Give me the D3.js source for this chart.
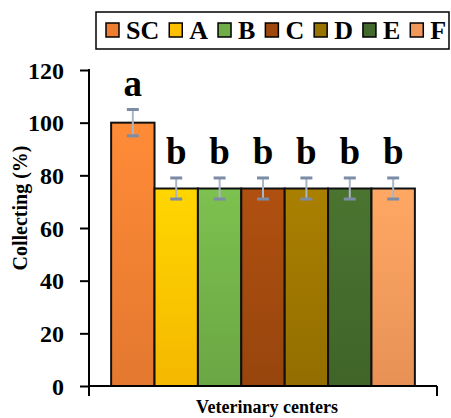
<!DOCTYPE html>
<html>
<head>
<meta charset="utf-8">
<script src="https://cdn.jsdelivr.net/npm/d3@7"></script>
<style>
  html, body { margin: 0; padding: 0; background: #fff; }
  svg { display: block; font-family: "Liberation Serif", "Times New Roman", serif; font-weight: bold; }
</style>
</head>
<body>
<svg id="chart" width="451" height="418"></svg>
<script>
// Collection rate per veterinary center
const centers = ["SC", "A", "B", "C", "D", "E", "F"];
const collecting = [100, 75, 75, 75, 75, 75, 75];
const errors = [5, 4, 4, 4, 4, 4, 4];
const groups = ["a", "b", "b", "b", "b", "b", "b"];
const colors = ["#ED7D31", "#FFC000", "#70AD47", "#9E480E", "#997300", "#43682B", "#F1975A"];
const yTicks = [0, 20, 40, 60, 80, 100, 120];

const svg = d3.select("#chart");
const plotLeft = 89, plotRight = 437, plotTop = 70, plotBottom = 386;

const x = d3.scaleBand().domain(centers).range([plotLeft, plotRight])
  .paddingInner(0).paddingOuter(0.51);
const y = d3.scaleLinear().domain([0, 120]).range([plotBottom, plotTop]);
const color = d3.scaleOrdinal().domain(centers).range(colors);

// vertical gradients for the bars, lighter towards the top
const defs = svg.append("defs");
centers.forEach((c, i) => {
  const g = defs.append("linearGradient").attr("id", "grad" + i)
    .attr("x1", 0).attr("y1", 0).attr("x2", 0).attr("y2", 1);
  g.append("stop").attr("offset", "0%").attr("stop-color", d3.color(colors[i]).brighter(0.3));
  g.append("stop").attr("offset", "100%").attr("stop-color", d3.color(colors[i]).darker(0.12));
});

// bars
svg.append("g").selectAll("rect").data(centers).join("rect")
  .attr("x", d => x(d))
  .attr("y", (d, i) => y(collecting[i]))
  .attr("width", x.bandwidth())
  .attr("height", (d, i) => y(0) - y(collecting[i]))
  .attr("fill", (d, i) => `url(#grad${i})`)
  .attr("stroke", "#111")
  .attr("stroke-width", 2);

// error bars
const eb = svg.append("g").selectAll("g").data(centers).join("g");
eb.append("line")
  .attr("x1", d => x(d) + x.bandwidth() / 2).attr("x2", d => x(d) + x.bandwidth() / 2)
  .attr("y1", (d, i) => y(collecting[i] + errors[i]))
  .attr("y2", (d, i) => y(collecting[i] - errors[i]))
  .attr("stroke", "#aab6c6").attr("stroke-width", 2);
[1, -1].forEach(s => {
  eb.append("line")
    .attr("x1", d => x(d) + x.bandwidth() / 2 - 6).attr("x2", d => x(d) + x.bandwidth() / 2 + 6)
    .attr("y1", (d, i) => y(collecting[i] + s * errors[i]))
    .attr("y2", (d, i) => y(collecting[i] + s * errors[i]))
    .attr("stroke", "#7d8ca6").attr("stroke-width", 3);
});

// significance letters
svg.append("g").selectAll("text").data(centers).join("text")
  .attr("x", d => x(d) + x.bandwidth() / 2)
  .attr("y", (d, i) => y(collecting[i] + errors[i]) - 14)
  .attr("text-anchor", "middle")
  .attr("font-size", 37)
  .attr("fill", "#000")
  .text((d, i) => groups[i]);

// y axis
const yAxis = svg.append("g").attr("transform", `translate(${plotLeft},0)`)
  .call(d3.axisLeft(y).tickValues(yTicks).tickSize(9).tickPadding(16).tickFormat(d3.format("d")));
yAxis.select(".domain").remove();
yAxis.selectAll(".tick line").attr("stroke", "#000").attr("stroke-width", 2);
yAxis.selectAll(".tick text").attr("font-size", 24).attr("font-family", "Liberation Serif, serif")
  .attr("font-weight", "bold").attr("fill", "#000").attr("dy", "0.34em");
svg.append("line").attr("x1", plotLeft).attr("x2", plotLeft).attr("y1", plotTop - 1).attr("y2", plotBottom + 10)
  .attr("stroke", "#000").attr("stroke-width", 2);

// x axis line with end tick
svg.append("line").attr("x1", plotLeft).attr("x2", plotRight).attr("y1", plotBottom).attr("y2", plotBottom)
  .attr("stroke", "#000").attr("stroke-width", 2);
svg.append("line").attr("x1", plotRight).attr("x2", plotRight).attr("y1", plotBottom).attr("y2", plotBottom + 10)
  .attr("stroke", "#000").attr("stroke-width", 2);

// axis titles
svg.append("text")
  .attr("transform", "translate(27,208) rotate(-90)")
  .attr("text-anchor", "middle").attr("font-size", 20).attr("fill", "#000")
  .text("Collecting (%)");
svg.append("text")
  .attr("x", (plotLeft + plotRight) / 2 + 4).attr("y", 413)
  .attr("text-anchor", "middle").attr("font-size", 18).attr("fill", "#000")
  .text("Veterinary centers");

// legend
const legend = svg.append("g");
legend.append("rect").attr("x", 96).attr("y", 12).attr("width", 353).attr("height", 37)
  .attr("fill", "#fff").attr("stroke", "#000").attr("stroke-width", 1.5);
let lx = 106;
centers.forEach((c, i) => {
  legend.append("rect").attr("x", lx).attr("y", 23).attr("width", 13).attr("height", 14)
    .attr("fill", color(c)).attr("stroke", "#000").attr("stroke-width", 1.5);
  const t = legend.append("text").attr("x", lx + 20).attr("y", 39)
    .attr("font-size", 26).attr("fill", "#000").text(c);
  lx += 20 + t.node().getComputedTextLength() + 10;
});
</script>
</body>
</html>
